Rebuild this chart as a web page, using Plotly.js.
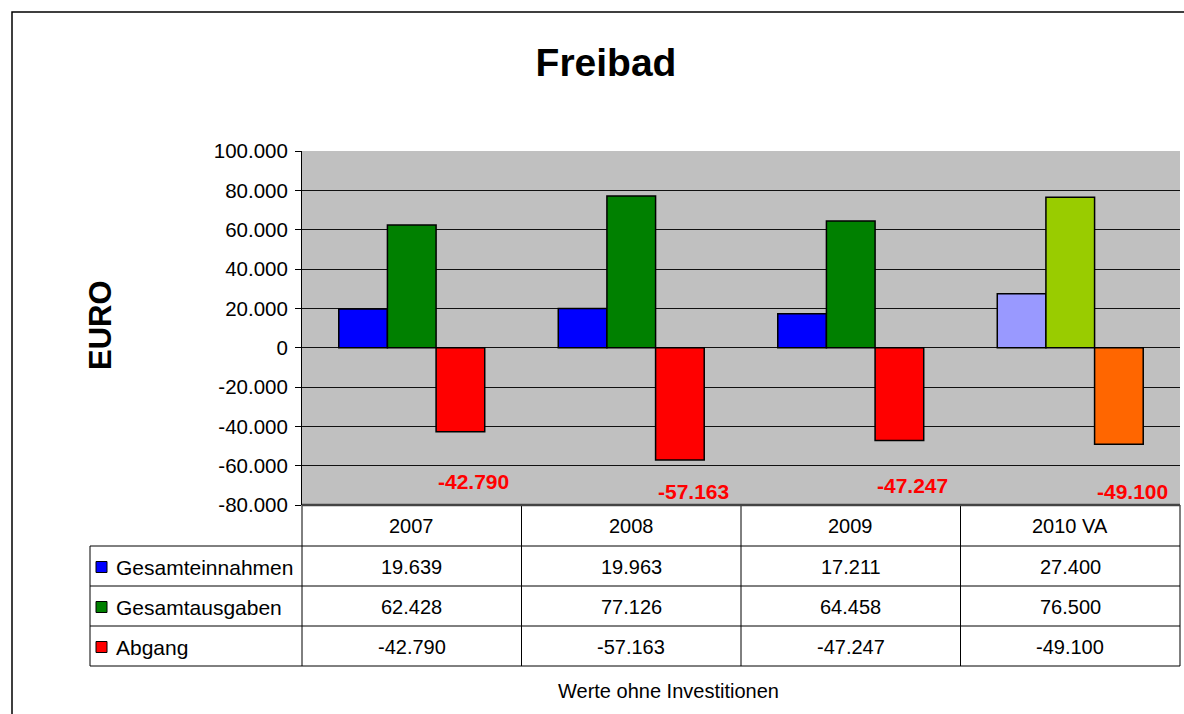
<!DOCTYPE html>
<html>
<head>
<meta charset="utf-8">
<script src="https://cdn.plot.ly/plotly-3.0.1.min.js"></script>
<style>html,body{margin:0;padding:0;background:#fff;}#chart{width:1184px;height:714px;}</style>
</head>
<body>
<div id="chart"></div>
<script>
// ---- data ----
const categories = ["2007", "2008", "2009", "2010 VA"];
const seriesNames = ["Gesamteinnahmen", "Gesamtausgaben", "Abgang"];
const einnahmen = [19639, 19963, 17211, 27400];
const ausgaben = [62428, 77126, 64458, 76500];
const abgang = [-42790, -57163, -47247, -49100];
const tableText = [
  ["19.639", "19.963", "17.211", "27.400"],
  ["62.428", "77.126", "64.458", "76.500"],
  ["-42.790", "-57.163", "-47.247", "-49.100"]
];
const abgangLabels = ["-42.790", "-57.163", "-47.247", "-49.100"];
const yTickVals = [-80000, -60000, -40000, -20000, 0, 20000, 40000, 60000, 80000, 100000];
const yTickText = ["-80.000", "-60.000", "-40.000", "-20.000", "0", "20.000", "40.000", "60.000", "80.000", "100.000"];

// ---- styles ----
const colEin = ["#0000FF", "#0000FF", "#0000FF", "#9999FF"];
const colAus = ["#008000", "#008000", "#008000", "#99CC00"];
const colAbg = ["#FF0000", "#FF0000", "#FF0000", "#FF6600"];
const keyColors = ["#0000FF", "#008000", "#FF0000"];
const FONT = "Liberation Sans, Arial, Helvetica, sans-serif";

const W = 1184, H = 714;
const L = 302, R = 1180, T = 151, B = 505;
const px2x = px => (px - L) / (R - L);
const px2y = py => (B - py) / (B - T);

const lineStyle = {color: "#000", width: 1.5};
const traces = [
  {type: "bar", name: seriesNames[0], x: categories, y: einnahmen, marker: {color: colEin, line: lineStyle}},
  {type: "bar", name: seriesNames[1], x: categories, y: ausgaben, marker: {color: colAus, line: lineStyle}},
  {type: "bar", name: seriesNames[2], x: categories, y: abgang, marker: {color: colAbg, line: lineStyle}}
];

const shapes = [];
const annotations = [];

// outer frame
shapes.push({type: "rect", xref: "paper", yref: "paper", x0: px2x(12), x1: px2x(1195), y0: px2y(12), y1: px2y(725),
  line: {color: "#000", width: 1.5}, layer: "below"});

// table lines
const colEdges = [302, 521.5, 741, 960.5, 1180];
const rowEdges = [546, 586, 626, 666];
rowEdges.forEach(py => shapes.push({type: "line", xref: "paper", yref: "paper", x0: px2x(90), x1: px2x(1180), y0: px2y(py), y1: px2y(py), line: {color: "#000", width: 1}}));
colEdges.forEach(px => shapes.push({type: "line", xref: "paper", yref: "paper", x0: px2x(px), x1: px2x(px), y0: px2y(505), y1: px2y(666), line: {color: "#000", width: 1}}));
shapes.push({type: "line", xref: "paper", yref: "paper", x0: px2x(90), x1: px2x(90), y0: px2y(546), y1: px2y(666), line: {color: "#000", width: 1}});
// plot bottom border
shapes.push({type: "line", xref: "paper", yref: "paper", x0: 0, x1: 1, y0: 0, y1: 0, line: {color: "#444", width: 2.5}});

// header row
categories.forEach((c, j) => annotations.push({xref: "x", yref: "paper", x: j, y: px2y(526), text: c, showarrow: false,
  font: {family: FONT, size: 20, color: "#000"}, xanchor: "center", yanchor: "middle"}));
// rows
const rowCenters = [567, 607, 647];
seriesNames.forEach((n, i) => {
  const yc = rowCenters[i];
  shapes.push({type: "rect", xref: "paper", yref: "paper", x0: px2x(96), x1: px2x(107), y0: px2y(yc - 5.5), y1: px2y(yc + 5.5),
    fillcolor: keyColors[i], line: {color: "#000", width: 1}});
  annotations.push({xref: "paper", yref: "paper", x: px2x(114), y: px2y(yc), text: n, showarrow: false,
    font: {family: FONT, size: 21, color: "#000"}, xanchor: "left", yanchor: "middle"});
  categories.forEach((c, j) => annotations.push({xref: "x", yref: "paper", x: j, y: px2y(yc), text: tableText[i][j], showarrow: false,
    font: {family: FONT, size: 20, color: "#000"}, xanchor: "center", yanchor: "middle"}));
});

// red data labels
const labelYShift = [24, 14, 20, 14];
categories.forEach((c, j) => annotations.push({xref: "x", yref: "y", x: j, y: -80000, xshift: 62, yshift: labelYShift[j],
  text: abgangLabels[j], showarrow: false, font: {family: FONT, size: 21, color: "#FF0000", weight: "bold"},
  xanchor: "center", yanchor: "middle"}));

// EURO axis title
annotations.push({xref: "paper", yref: "paper", x: px2x(100), y: px2y(325), text: "EURO", textangle: -90, showarrow: false,
  font: {family: FONT, size: 31, color: "#000", weight: "bold"}, xanchor: "center", yanchor: "middle"});
// footer
annotations.push({xref: "paper", yref: "paper", x: px2x(668), y: px2y(691), text: "Werte ohne Investitionen", showarrow: false,
  font: {family: FONT, size: 20, color: "#000"}, xanchor: "center", yanchor: "middle"});

const layout = {
  width: W, height: H,
  margin: {l: L, r: W - R, t: T, b: H - B, pad: 0},
  paper_bgcolor: "#fff",
  plot_bgcolor: "#C0C0C0",
  showlegend: false,
  barmode: "group",
  bargap: 0.335,
  bargroupgap: 0,
  title: {text: "Freibad", x: 606 / W, xref: "container", xanchor: "center", y: 1 - 62 / H, yref: "container", yanchor: "middle",
    font: {family: FONT, size: 39, color: "#000", weight: "bold"}},
  xaxis: {type: "category", range: [-0.5, categories.length - 0.5], showticklabels: false, ticks: "", showgrid: false, zeroline: false, showline: false, fixedrange: true},
  yaxis: {range: [-80000, 100000], tickvals: yTickVals, ticktext: yTickText, ticks: "outside", ticklen: 6, tickcolor: "#000",
    ticklabelstandoff: 3,
    tickfont: {family: FONT, size: 20.5, color: "#000"}, showgrid: true, gridcolor: "#111", gridwidth: 1,
    zeroline: true, zerolinecolor: "#111", zerolinewidth: 1, showline: true, linecolor: "#000", linewidth: 1, fixedrange: true},
  shapes: shapes,
  annotations: annotations
};

Plotly.newPlot("chart", traces, layout, {displayModeBar: false, staticPlot: true});
</script>
</body>
</html>
